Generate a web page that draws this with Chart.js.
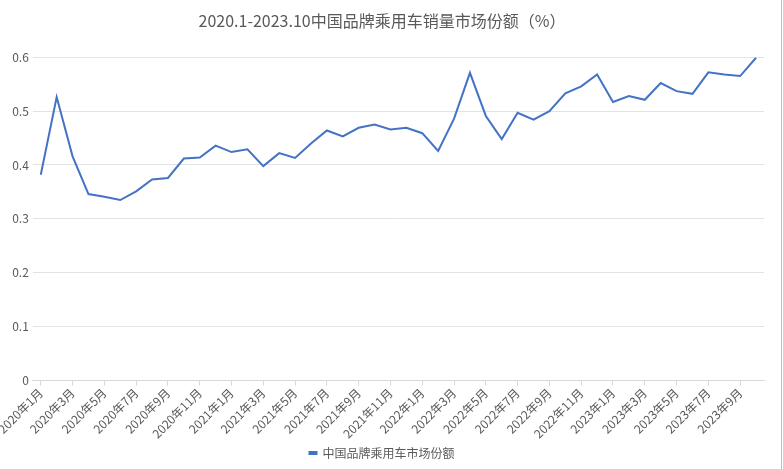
<!DOCTYPE html>
<html>
<head>
<meta charset="utf-8">
<script src="https://cdn.jsdelivr.net/npm/chart.js@4"></script>
<style>
  html, body { margin: 0; padding: 0; background: #fff; }
  #wrap { position: relative; width: 783px; height: 469px; }
  #edge { position: absolute; left: 781px; top: 0; width: 1px; height: 469px; background: #bfbfbf; }
</style>
</head>
<body>
<div id="wrap">
  <canvas id="shareChart" width="783" height="469"></canvas>
  <div id="edge"></div>
</div>
<script>
// months 2020.1 - 2023.10
const years = [2020, 2021, 2022, 2023];
const months = [];
years.forEach(y => {
  for (let m = 1; m <= 12; m++) {
    if (y === 2023 && m > 10) break;
    months.push(y + "年" + m + "月");
  }
});

// 中国品牌乘用车市场份额
const shareValues = [
  0.382, 0.526, 0.416, 0.346, 0.341, 0.335, 0.351, 0.373, 0.376, 0.412, 0.414, 0.436,
  0.424, 0.429, 0.398, 0.422, 0.413, 0.440, 0.464, 0.453, 0.469, 0.475, 0.466, 0.469,
  0.459, 0.426, 0.486, 0.571, 0.491, 0.448, 0.497, 0.484, 0.500, 0.533, 0.546, 0.568,
  0.517, 0.528, 0.521, 0.552, 0.537, 0.532, 0.572, 0.568, 0.565, 0.599
];

const yTicks = [0, 0.1, 0.2, 0.3, 0.4, 0.5, 0.6];

const titleText = "2020.1-2023.10中国品牌乘用车销量市场份额（%）";
const seriesName = "中国品牌乘用车市场份额";

const font = "'Noto Sans CJK SC', 'Noto Sans', sans-serif";
const ctx = document.getElementById("shareChart").getContext("2d");

new Chart(ctx, {
  type: 'line',
  data: {
    labels: months,
    datasets: [{
      label: seriesName,
      data: shareValues,
      borderColor: '#4472C4',
      backgroundColor: '#4472C4',
      borderWidth: 2,
      pointRadius: 0,
      tension: 0
    }]
  },
  options: {
    responsive: false,
    animation: false,
    layout: { padding: { left: 0, right: 19, top: 11, bottom: 0 } },
    plugins: {
      title: {
        display: true,
        text: titleText,
        color: '#595959',
        font: { family: font, size: 16, weight: 'normal' },
        padding: { top: 0, bottom: 27 }
      },
      legend: {
        position: 'bottom',
        labels: {
          color: '#595959',
          font: { family: font, size: 12 },
          boxWidth: 7,
          boxHeight: 2,
          padding: 6
        }
      },
      tooltip: { enabled: false }
    },
    scales: {
      x: {
        offset: true,
        grid: { drawOnChartArea: false, offset: false, color: '#d9d9d9', tickLength: 5 },
        border: { color: '#d9d9d9' },
        ticks: {
          color: '#595959',
          font: { family: font, size: 12 },
          autoSkip: false,
          minRotation: 45,
          maxRotation: 45,
          padding: 0,
          callback: function(val, i) { return i % 2 === 0 ? months[i] : null; }
        }
      },
      y: {
        min: 0,
        max: 0.6,
        afterBuildTicks: axis => { axis.ticks = yTicks.map(v => ({ value: v })); },
        grid: { color: '#e3e3e3', drawTicks: false },
        border: { display: false },
        ticks: {
          color: '#595959',
          font: { family: font, size: 12 },
          padding: 4
        }
      }
    }
  }
});
</script>
</body>
</html>
